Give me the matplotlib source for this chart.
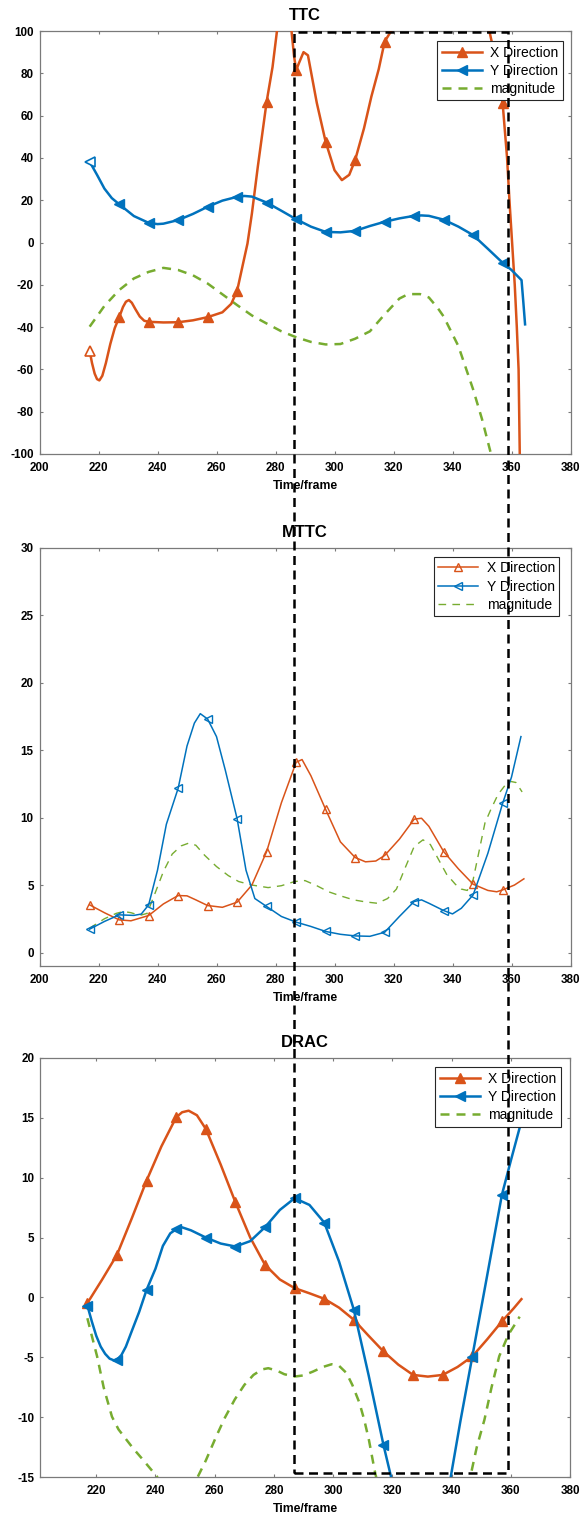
import matplotlib
matplotlib.use("Agg")
import matplotlib.pyplot as plt
from matplotlib.lines import Line2D
from matplotlib.patches import Rectangle

plt.rcParams["font.family"] = ["Liberation Sans", "DejaVu Sans"]
plt.rcParams["axes.unicode_minus"] = False

ORANGE = "#D95319"
BLUE = "#0072BD"
GREEN = "#77AC30"
AXIS_GRAY = "#7a7a7a"

PANEL_TITLES = ["TTC", "MTTC", "DRAC"]
LEGEND_LABELS = ["X Direction", "Y Direction", "magnitude"]
X_LABEL = "Time/frame"
MARKER_FRAMES = list(range(217, 358, 10))

# ---------------- TTC ----------------
TTC_X_FRAMES = [217, 217.8, 218.7, 219.5, 220.3, 221.3, 222.5, 224, 225.5, 227, 228.3, 229.3,
                230.3, 231.3, 232.5, 234, 235.5, 237, 242, 247,
                252, 257, 262, 265, 267, 269, 270.5, 272, 274, 277, 279, 280.5, 282.5,
                284.5, 285.5, 286.3, 287, 288, 289.5, 291, 294, 297, 300, 302.5, 305,
                307, 310, 312.5, 315, 317, 319.2, 322, 336, 350, 352.5, 355, 357, 358.5,
                359.3, 360.2, 361.1, 361.8, 362.4, 362.8, 363.2]
TTC_X_VALUES = [-51.2, -57, -62, -64.6, -65.2, -63, -57, -48, -40.5, -35.4, -30.5, -28,
                -27.2, -28.5, -31.5, -35, -37, -37.5, -37.8, -37.7,
                -36.8, -35.3, -33, -29, -22.8, -10, -0.5, 13.7, 35.8, 66.6, 83,
                100, 125, 115, 99, 88, 81.5, 85, 90, 88.5, 66, 47.6, 34.2, 29.5, 32,
                39, 54, 69, 82, 95, 100, 110, 130, 110, 100, 84, 65.8, 40, 20, 0, -20,
                -40, -60, -100, -115]

TTC_Y_FRAMES = [217, 219.5, 222, 224.5, 227, 232, 237, 240, 242, 247, 252, 257, 262, 267,
                269.5, 272, 277, 282, 287, 292, 297, 302, 307, 312, 317, 322, 327, 329.5,
                332, 337, 342, 347, 352, 357, 360, 363.4, 364, 364.6]
TTC_Y_VALUES = [38.2, 32, 25.5, 21, 18.1, 12.5, 9.3, 8.7, 8.9, 10.6, 13.5, 16.9, 19.8,
                21.6, 22.0, 21.7, 18.9, 15, 11, 7.5, 5.0, 4.8, 5.5, 7.8, 9.8, 11.4, 12.6,
                12.8, 12.6, 10.8, 7.5, 3.5, -3, -9.6, -13, -17.8, -28, -38.7]

TTC_M_FRAMES = [217, 222, 227, 232, 237, 242, 247, 252, 257, 262, 267, 272, 277, 282, 287,
                292, 297, 302, 307, 312, 317, 322, 325, 329, 332, 335, 337, 342, 347, 350,
                353, 355]
TTC_M_VALUES = [-39.8, -30, -22.5, -17, -13.9, -12, -13, -15.5, -19.4, -24.5, -29.6,
                -34.5, -38.3, -42, -44.8, -47, -48.2, -48, -45.5, -42, -34, -26.5, -24.4,
                -24.4, -26, -31, -35, -49, -69.5, -83.5, -99.7, -112]

# ---------------- MTTC ----------------
MTTC_X_FRAMES = [217, 222, 227, 231, 237, 242, 247, 250, 253, 257, 262, 267, 272, 277, 282,
                 287, 289, 292, 297, 302, 307, 310.5, 314, 317, 322, 327, 329.5, 332, 337,
                 342, 347, 352, 355, 357, 361, 364.2]
MTTC_X_VALUES = [3.53, 2.95, 2.42, 2.35, 2.74, 3.6, 4.22, 4.2, 3.9, 3.48, 3.35, 3.73, 5.0,
                 7.48, 11.1, 14.1, 14.3, 13.1, 10.6, 8.2, 7.04, 6.72, 6.78, 7.19, 8.4,
                 9.88, 9.95, 9.35, 7.48, 6.2, 5.06, 4.6, 4.5, 4.64, 5.0, 5.46]

MTTC_Y_FRAMES = [217, 222, 227, 232, 234.5, 237, 240, 243, 247, 250, 252.5, 254.5, 257, 260,
                 263, 267, 270, 273, 277, 282, 287, 292, 297, 302, 307, 312, 317, 322, 327,
                 329.5, 332, 337, 340, 343, 347, 352, 357, 360, 363.2]
MTTC_Y_VALUES = [1.73, 2.3, 2.79, 2.75, 2.85, 3.53, 6.1, 9.5, 12.17, 15.3, 17.0, 17.7, 17.3,
                 16.0, 13.5, 9.9, 6.1, 4.0, 3.41, 2.67, 2.25, 1.93, 1.56, 1.35, 1.23, 1.2,
                 1.5, 2.67, 3.78, 3.9, 3.65, 3.11, 2.86, 3.28, 4.27, 7.36, 11.06, 13.0, 16.0]

MTTC_M_FRAMES = [217, 222, 226, 228.5, 231, 234, 236.5, 239, 242, 245, 248, 250.5, 253, 256,
                 260, 264, 267.5, 272, 277.5, 282, 286.5, 290, 294, 298, 302, 306.5, 310.5,
                 314.5, 318, 321, 324, 327, 330, 332.5, 335, 338, 341, 343, 345, 347, 349,
                 351, 353, 355.4, 357.5, 359.2, 361.5, 363.6]
MTTC_M_VALUES = [1.8, 2.5, 2.9, 3.04, 2.95, 2.75, 2.9, 4.3, 6.0, 7.3, 7.9, 8.1, 7.95, 7.2,
                 6.37, 5.7, 5.26, 5.0, 4.81, 4.95, 5.26, 5.33, 4.95, 4.5, 4.2, 3.9, 3.75,
                 3.65, 4.0, 4.7, 6.3, 7.85, 8.35, 8.0, 7.0, 5.8, 5.05, 4.7, 4.6, 5.4, 7.5,
                 9.6, 10.6, 11.7, 12.3, 12.7, 12.6, 11.9]

# ---------------- DRAC ----------------
DRAC_X_FRAMES = [217, 222, 227, 232, 237, 242, 247, 249, 251.2, 254, 257, 262, 267, 272, 277,
                 282, 287, 292, 297, 302, 307, 312, 317, 322, 327, 332, 337, 342, 347, 352,
                 357, 361, 363.6]
DRAC_X_VALUES = [-0.47, 1.5, 3.56, 6.6, 9.75, 12.6, 15.03, 15.45, 15.58, 15.2, 14.06, 11.1,
                 7.94, 5.0, 2.72, 1.5, 0.78, 0.35, -0.11, -0.85, -1.86, -3.2, -4.5, -5.6,
                 -6.46, -6.6, -6.46, -5.8, -4.92, -3.5, -2.0, -0.9, -0.14]

DRAC_Y_FRAMES = [217, 218.5, 220, 221.5, 223, 224.5, 226, 227, 228.5, 230, 232, 234.5, 237,
                 240, 242.5, 245,
                 247, 249, 252, 257, 262, 267, 272, 277, 282, 287, 292, 297, 302, 307, 312,
                 317, 319.6, 323, 328, 332, 336, 339.7, 343, 347, 352, 357, 360, 363.1, 364.5]
DRAC_Y_VALUES = [-0.67, -2.0, -3.2, -4.1, -4.7, -5.1, -5.25, -5.2, -4.8, -4.1, -2.8, -1.2,
                 0.64, 2.4, 4.3, 5.35,
                 5.69, 5.85, 5.6, 5.0, 4.5, 4.25, 4.7, 5.86, 7.3, 8.28, 7.72, 6.25, 3.0,
                 -1.03, -6.5, -12.3, -15, -18.5, -22, -22.5, -20.5, -15, -10.3, -4.93, 1.8,
                 8.56, 11.4, 14.25, 15.6]

DRAC_M_FRAMES = [217, 218.5, 220.3, 222.5, 225.3, 227.5, 230.3, 232.5, 235.3, 238, 240.4,
                 241.5, 244, 248, 251, 254.2, 257, 260.5, 263.5, 266.8, 270, 273.1, 276,
                 278.1, 281, 283.5, 286.9, 290, 293.2, 296.5, 299.5, 302, 304.5, 306.5,
                 308.9, 310.5, 312.1, 314, 315, 320, 330, 340, 345, 346.3, 348.5, 351.1,
                 353.5, 356.1, 359.2, 361, 363]
DRAC_M_VALUES = [-1.73, -3.2, -4.93, -7.5, -9.94, -11.0, -11.9, -12.6, -13.4, -14.2, -14.9,
                 -15.4, -16.3, -16.8, -16.5, -15.0, -13.6, -11.6, -10.0, -8.5, -7.3, -6.46,
                 -6.0, -5.9, -6.1, -6.4, -6.6, -6.5, -6.18, -5.8, -5.57, -5.7, -6.3, -7.3,
                 -8.8, -10.2, -11.9, -14.4, -15.5, -22, -28, -24, -17, -15, -12.5, -10.2,
                 -7.5, -4.9, -3.1, -2.4, -1.6]

PANELS = [
    dict(title=PANEL_TITLES[0],
         series=[(TTC_X_FRAMES, TTC_X_VALUES), (TTC_Y_FRAMES, TTC_Y_VALUES),
                 (TTC_M_FRAMES, TTC_M_VALUES)],
         xlim=(200, 380), xticks=list(range(200, 381, 20)),
         ylim=(-100, 100), yticks=list(range(-100, 101, 20)),
         filled=True, open_first=True, lw=1.8, ms=7, mlw=1.8, mdash=(3.6, 2.8),
         rect=(39.5, 31, 531, 423), legend_anchor=(0.986, 0.976)),
    dict(title=PANEL_TITLES[1],
         series=[(MTTC_X_FRAMES, MTTC_X_VALUES), (MTTC_Y_FRAMES, MTTC_Y_VALUES),
                 (MTTC_M_FRAMES, MTTC_M_VALUES)],
         xlim=(200, 380), xticks=list(range(200, 381, 20)),
         ylim=(-1, 30), yticks=list(range(0, 31, 5)),
         filled=False, open_first=False, lw=1.1, ms=5.5, mlw=1.0, mdash=(5.5, 4.5),
         rect=(39.5, 547.7, 531, 418.3), legend_anchor=(0.979, 0.978)),
    dict(title=PANEL_TITLES[2],
         series=[(DRAC_X_FRAMES, DRAC_X_VALUES), (DRAC_Y_FRAMES, DRAC_Y_VALUES),
                 (DRAC_M_FRAMES, DRAC_M_VALUES)],
         xlim=(201, 380), xticks=list(range(220, 381, 20)),
         ylim=(-15, 20), yticks=list(range(-15, 21, 5)),
         filled=True, open_first=False, lw=1.8, ms=7, mlw=1.8, mdash=(3.6, 2.8),
         rect=(40, 1057.7, 530, 419.6), legend_anchor=(0.983, 0.977)),
]

# box drawn across all three panels (frames, TTC top value, DRAC bottom value)
BOX_FRAMES = (286.2, 358.8)
BOX_TOP_VALUE = 99.4
BOX_BOTTOM_VALUE = -14.6

W, H = 583, 1517
fig = plt.figure(figsize=(W / 100, H / 100), dpi=100)
fig.patch.set_facecolor("white")

COLORS = [ORANGE, BLUE, GREEN]
MARKERS = ["^", "<", None]

axes = []
for p in PANELS:
    left, top, width, height = p["rect"]
    ax = fig.add_axes([left / W, 1 - (top + height) / H, width / W, height / H])
    axes.append(ax)

    handles = []
    for k, (frames, values) in enumerate(p["series"]):
        color = COLORS[k]
        if MARKERS[k] is None:
            ax.plot(frames, values, color=color, lw=p["mlw"],
                    linestyle=(0, p["mdash"]), zorder=2)
            handles.append(Line2D([], [], color=color, lw=p["mlw"], linestyle=(0, p["mdash"])))
            continue
        idx = [i for i, f in enumerate(frames) if f in MARKER_FRAMES]
        idx_filled = idx[1:] if p["open_first"] else idx
        face = color if p["filled"] else "none"
        ax.plot(frames, values, color=color, lw=p["lw"], marker=MARKERS[k],
                markevery=idx_filled, ms=p["ms"], mfc=face, mec=color,
                mew=1.0, zorder=3)
        if p["open_first"]:
            ax.plot(frames[idx[0]], values[idx[0]], linestyle="none", marker=MARKERS[k],
                    ms=p["ms"], mfc="white", mec=color, mew=1.2, zorder=4)
        handles.append(Line2D([], [], color=color, lw=p["lw"], marker=MARKERS[k],
                              ms=p["ms"], mfc=face, mec=color, mew=1.0))

    ax.set_xlim(*p["xlim"])
    ax.set_ylim(*p["ylim"])
    ax.set_xticks(p["xticks"])
    ax.set_yticks(p["yticks"])
    ax.tick_params(direction="in", top=True, right=True, length=2.5, width=0.8,
                   color=AXIS_GRAY, labelsize=8.4)
    ax.tick_params(axis="x", pad=5.6)
    ax.tick_params(axis="y", pad=4.2)
    for lab in ax.get_xticklabels() + ax.get_yticklabels():
        lab.set_fontweight("bold")
    for s in ax.spines.values():
        s.set_color(AXIS_GRAY)
        s.set_linewidth(0.9)
    ax.set_title(p["title"], fontsize=12, fontweight="bold", pad=7.8)
    ax.set_xlabel(X_LABEL, fontsize=8.8, fontweight="bold", labelpad=4.6)

    leg = ax.legend(handles, LEGEND_LABELS, loc="upper right",
                    bbox_to_anchor=p["legend_anchor"], borderaxespad=0,
                    fancybox=False, framealpha=1, edgecolor="#262626",
                    fontsize=10, handlelength=2.9, handletextpad=0.6,
                    borderpad=0.32, labelspacing=0.3, numpoints=1)
    leg.get_frame().set_linewidth(0.8)
    leg.set_zorder(5)

# dashed box spanning the panels
ax_top, ax_bot = axes[0], axes[2]
to_fig = fig.transFigure.inverted()
x0, y0 = to_fig.transform(ax_top.transData.transform((BOX_FRAMES[0], BOX_TOP_VALUE)))
x1, _ = to_fig.transform(ax_top.transData.transform((BOX_FRAMES[1], BOX_TOP_VALUE)))
_, y1 = to_fig.transform(ax_bot.transData.transform((300, BOX_BOTTOM_VALUE)))
box = Rectangle((x0, y1), x1 - x0, y0 - y1, transform=fig.transFigure, fill=False,
                edgecolor="black", lw=1.8, linestyle=(0, (3.6, 2.2)), zorder=10,
                clip_on=False)
fig.add_artist(box)

fig.savefig("out.png", dpi=100, facecolor="white")
